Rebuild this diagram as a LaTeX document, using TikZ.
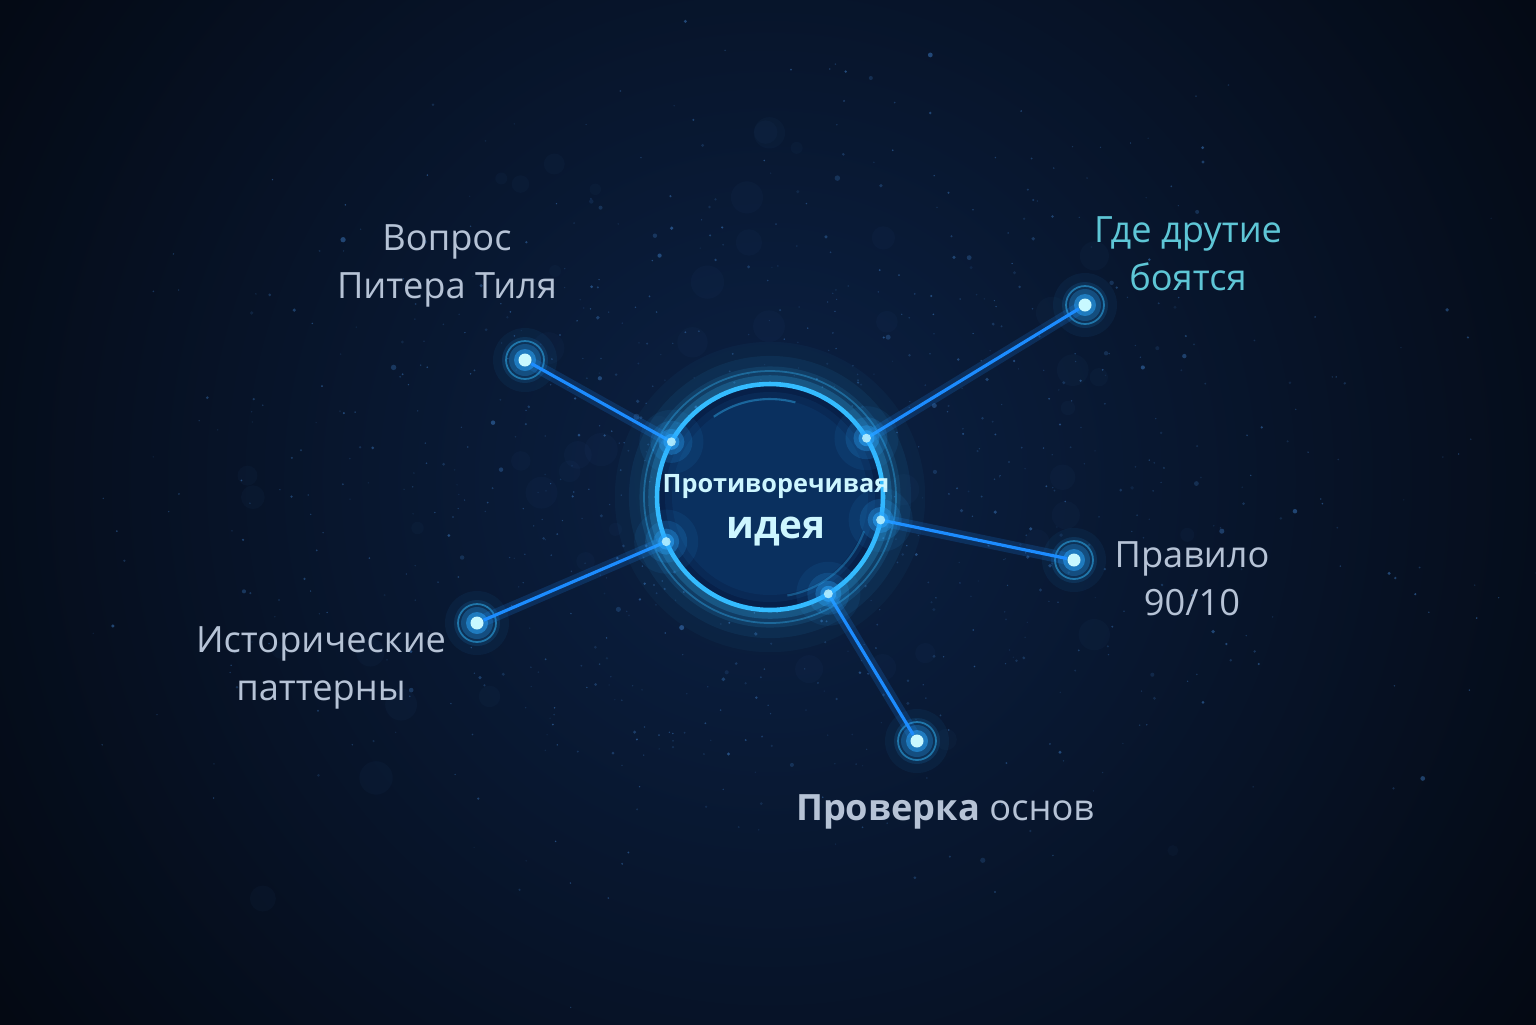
\documentclass[tikz,border=0pt]{standalone}
\usepackage{fontspec}
\setmainfont{Open Sans}
\usepackage{tikz}
\usetikzlibrary{calc}
\definecolor{hgmitte}{HTML}{0B2144}
\definecolor{hgrand}{HTML}{03060D}
\definecolor{linie}{HTML}{1C8CFF}
\definecolor{kern}{HTML}{C8F8FF}
\definecolor{glut}{HTML}{2AA8FF}
\definecolor{ringfarbe}{HTML}{34BCFF}
\definecolor{kreisfill}{HTML}{072049}
\definecolor{schrift}{HTML}{B6C3D6}
\definecolor{tuerkis}{HTML}{5EC6D6}
\definecolor{staub}{HTML}{3F7FC8}
\definecolor{mitteschrift}{HTML}{CDF6FF}

\begin{document}
\begin{tikzpicture}[
  punkt/.style={circle,fill=kern,inner sep=0pt,minimum size=0.13cm},
  beschr/.style={align=center,text=schrift,font=\fontsize{10.3}{13.6}\selectfont},
  verbindung/.style={linie,line width=0.9pt,preaction={draw,linie,line width=3.5pt,opacity=0.18}}
]
\useasboundingbox (0cm,0cm) rectangle (15.36cm,-10.24cm);
% hintergrund
\fill[hgrand] (0cm,0cm) rectangle (15.36cm,-10.24cm);
\begin{scope}
\clip (0cm,0cm) rectangle (15.36cm,-10.24cm);
\shade[inner color=hgmitte,outer color=hgrand] (7.7cm,-4.8cm) circle (10.5cm);
\end{scope}
% staub
\pgfmathsetseed{17}
\foreach \i in {1,...,60}{
  \pgfmathsetmacro{\x}{7.7+6*(rnd+rnd-1)}
  \pgfmathsetmacro{\y}{-4.9+4.2*(rnd+rnd-1)}
  \pgfmathsetmacro{\r}{0.05+0.12*rnd}
  \fill[staub,opacity=0.04] (\x,\y) circle (\r);
}
\foreach \i in {1,...,900}{
  \pgfmathsetmacro{\x}{7.7+5.5*(rnd+rnd+rnd-1.5)}
  \pgfmathsetmacro{\y}{-4.9+3.6*(rnd+rnd+rnd-1.5)}
  \pgfmathsetmacro{\r}{0.007+0.028*rnd*rnd*rnd}
  \pgfmathsetmacro{\o}{0.12+0.4*rnd}
  \fill[staub,opacity=\o] (\x,\y) circle (\r);
}

% mittelkreis mit glow
\coordinate (m) at (7.70cm,-4.97cm);
\foreach \w/\o in {24/0.04,16/0.07,10/0.11,5/0.2}
  \draw[ringfarbe,line width=\w pt,opacity=\o] (m) circle (1.13cm);
\draw[ringfarbe,line width=0.5pt,opacity=0.35] (m) circle (1.26cm);
\node[circle,minimum size=2.26cm,inner sep=0pt,draw=ringfarbe,line width=1.3pt,fill=kreisfill] (c) at (m) {};
\foreach \s/\o in {1.05/0.07,0.98/0.06}
  \fill[glut,opacity=\o] (m) circle (\s);
\draw[ringfarbe,line width=0.6pt,opacity=0.4] ([shift={(125:0.98cm)}]m) arc (125:75:0.98cm);
\draw[ringfarbe,line width=0.6pt,opacity=0.3] ([shift={(-20:1.0cm)}]m) arc (-20:-80:1.0cm);
\node[align=center,text=mitteschrift,font=\bfseries,inner sep=0pt] (ct) at (7.76cm,-5.10cm)
  {\fontsize{7.2}{9}\selectfont Противоречивая\\[1pt]{\fontsize{11}{13}\selectfont идея}};

% punkte
\foreach \n/\x/\y in {1/5.25/-3.60, 2/10.85/-3.05, 3/10.74/-5.60, 4/9.17/-7.41, 5/4.77/-6.23}{
  \foreach \s/\o in {0.32/0.06,0.23/0.12,0.16/0.25,0.11/0.5}
    \fill[glut,opacity=\o] (\x,\y) circle (\s);
  \draw[ringfarbe,line width=0.5pt,opacity=0.5] (\x,\y) circle (0.19);
  \node[punkt] (\n) at (\x,\y) {};
}

% verbindungen
\foreach \n in {1,...,5}{
  \draw[verbindung] (c) -- (\n);
  \coordinate (r\n) at ($(m)!1.13cm!(\n)$);
  \foreach \s/\o in {0.32/0.08,0.21/0.16,0.13/0.32,0.08/0.55}
    \fill[glut,opacity=\o] (r\n) circle (\s);
  \fill[kern,opacity=0.8] (r\n) circle (0.045);
}

% beschriftungen
\node[beschr] (t1) at (4.47cm,-2.66cm) {Вопрос\\Питера Тиля};
\node[beschr,text=tuerkis] (t2) at (11.88cm,-2.54cm) {Где друтие\\боятся};
\node[beschr] (t3) at (11.92cm,-5.79cm) {Правило\\90/10};
\node[beschr] (t4) at (9.45cm,-8.12cm) {{\bfseries Проверка} основ};
\node[beschr] (t5) at (3.21cm,-6.68cm) {Исторические\\паттерны};
\end{tikzpicture}
\end{document}
